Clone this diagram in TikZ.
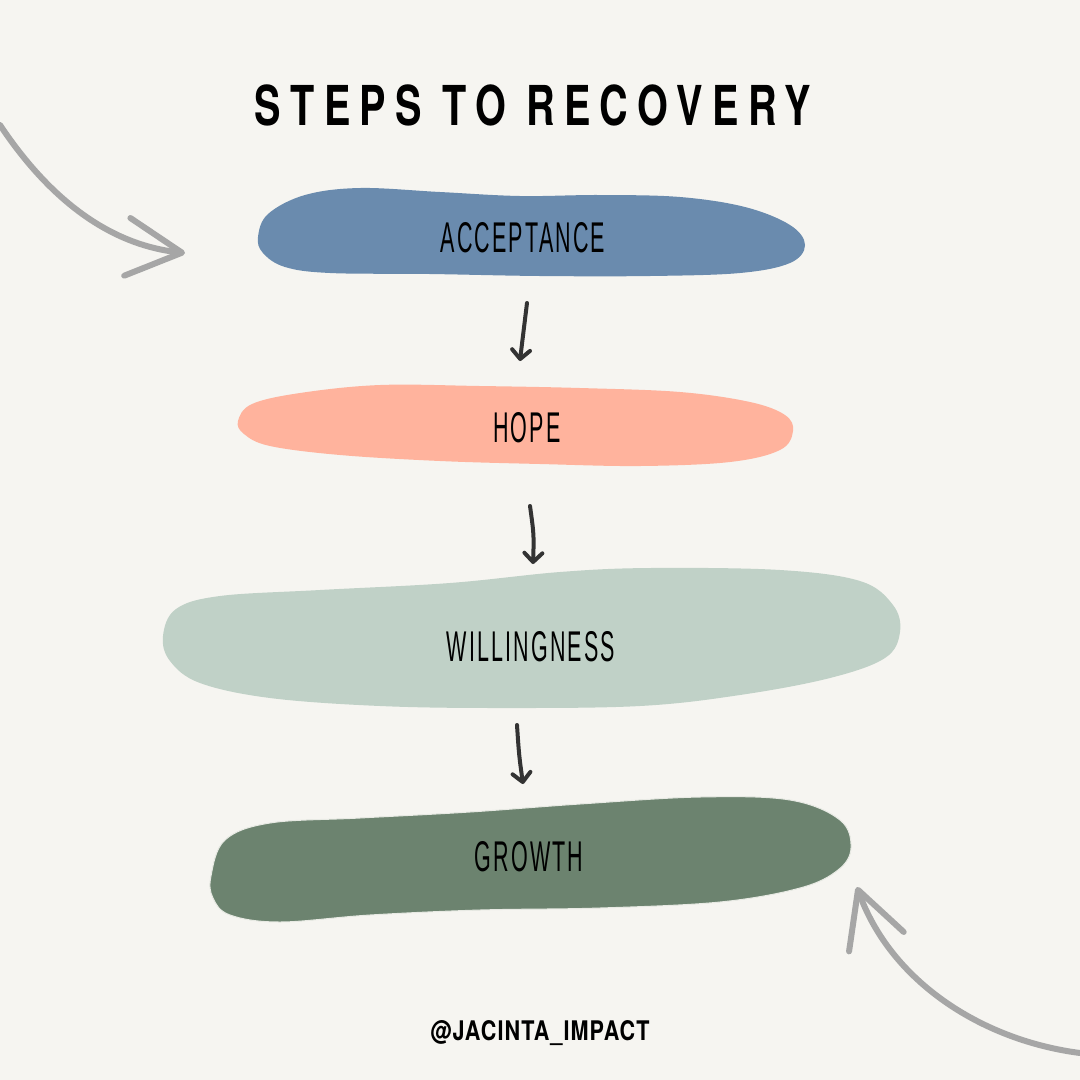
\documentclass[tikz,border=0pt]{standalone}
\usepackage{fontspec}
\usepackage{tikz}
\usetikzlibrary{arrows.meta}

\newfontfamily\titlefont[LetterSpace=17,FakeStretch=0.72]{TeX Gyre Heros Bold}
\newfontfamily\handfont[FakeStretch=0.5,LetterSpace=5]{Liberation Sans}
\newfontfamily\tagfont[FakeStretch=0.8,LetterSpace=4]{TeX Gyre Heros Bold}

\definecolor{paper}{HTML}{F6F5F1}
\definecolor{stepblue}{HTML}{6A8BAE}
\definecolor{stepsalmon}{HTML}{FFB39D}
\definecolor{stepsage}{HTML}{C0D1C7}
\definecolor{stepgreen}{HTML}{6C836F}
\definecolor{swoopgray}{HTML}{A6A6A6}
\definecolor{inkgray}{HTML}{333333}

\begin{document}
\begin{tikzpicture}[
    x=1pt, y=-1pt,
    blob/.style={line join=round},
    steplabel/.style={font=\handfont\fontsize{43}{45}\selectfont, text=black, inner sep=0pt},
    down/.style={-{Straight Barb[length=9pt,width=18pt,round]}, line width=4pt, draw=inkgray, line cap=round},
    swoop/.style={-{Straight Barb[length=55pt,width=58pt,round]}, line width=6pt, draw=swoopgray, line cap=round}
]
% canvas
\fill[paper] (0,0) rectangle (1080,1080);
\useasboundingbox (0,0) rectangle (1080,1080);

% blobs
\fill[stepblue, blob] plot[smooth cycle, tension=0.6] coordinates {
  (258,237) (268,214) (305,195) (360,188) (440,192) (520,196) (600,195) (680,197)
  (745,207) (790,225) (805,245) (790,263) (740,273) (650,276) (540,276)
  (430,274) (330,273) (285,267) (263,253)};
\fill[stepsalmon, blob] plot[smooth cycle, tension=0.6] coordinates {
  (238,421) (252,404) (300,393) (380,385) (480,386) (580,388) (680,392)
  (750,402) (785,415) (793,431) (780,450) (730,462) (640,466) (540,464)
  (440,461) (340,455) (270,446) (244,434)};
\fill[stepsage, blob] plot[smooth cycle, tension=0.6] coordinates {
  (163,636) (176,609) (220,596) (320,590) (450,583) (560,572) (650,568)
  (780,570) (860,581) (893,605) (900,632) (885,658) (830,678) (740,695)
  (640,706) (500,708) (380,706) (270,698) (200,683) (170,661)};
\filldraw[fill=stepgreen, draw=paper!90!stepgreen, line width=1pt, blob] plot[smooth cycle, tension=0.6] coordinates {
  (211,876) (225,840) (270,823) (360,818) (470,812) (580,804) (700,797)
  (790,800) (840,820) (851,848) (838,870) (800,888) (720,902) (600,908)
  (480,910) (370,915) (280,922) (230,915) (213,898)};

% title and labels
\node[font=\titlefont\fontsize{55}{60}\selectfont, inner sep=0pt] (title) at (533,105) {STEPS TO RECOVERY};
\node[steplabel] (accept) at (523,238) {ACCEPTANCE};
\node[steplabel] (hope) at (527,428) {HOPE};
\node[steplabel] (willing) at (531,647) {WILLINGNESS};
\node[steplabel] (growth) at (529,857) {GROWTH};
\node[font=\tagfont\fontsize{27}{30}\selectfont, inner sep=0pt] (handle) at (540,1033) {@JACINTA\_IMPACT};

% down arrows
\coordinate (d1a) at (527,303);
\coordinate (d1b) at (520,361);
\coordinate (d2a) at (530,506);
\coordinate (d2b) at (533,564);
\coordinate (d3a) at (517,725);
\coordinate (d3b) at (523,784);
\draw[down] (d1a) .. controls (523,330) .. (d1b);
\draw[down] (d2a) .. controls (534,535) .. (d2b);
\draw[down] (d3a) .. controls (519,755) .. (d3b);

% corner swoops
\coordinate (tlA) at (0,125);
\coordinate (tlB) at (185,253);
\coordinate (brA) at (1080,1053);
\coordinate (brB) at (857,887);
\draw[swoop] (tlA) .. controls (50,200) and (110,245) .. (tlB);
\draw[swoop] (brA) .. controls (980,1040) and (890,980) .. (brB);

\end{tikzpicture}
\end{document}
